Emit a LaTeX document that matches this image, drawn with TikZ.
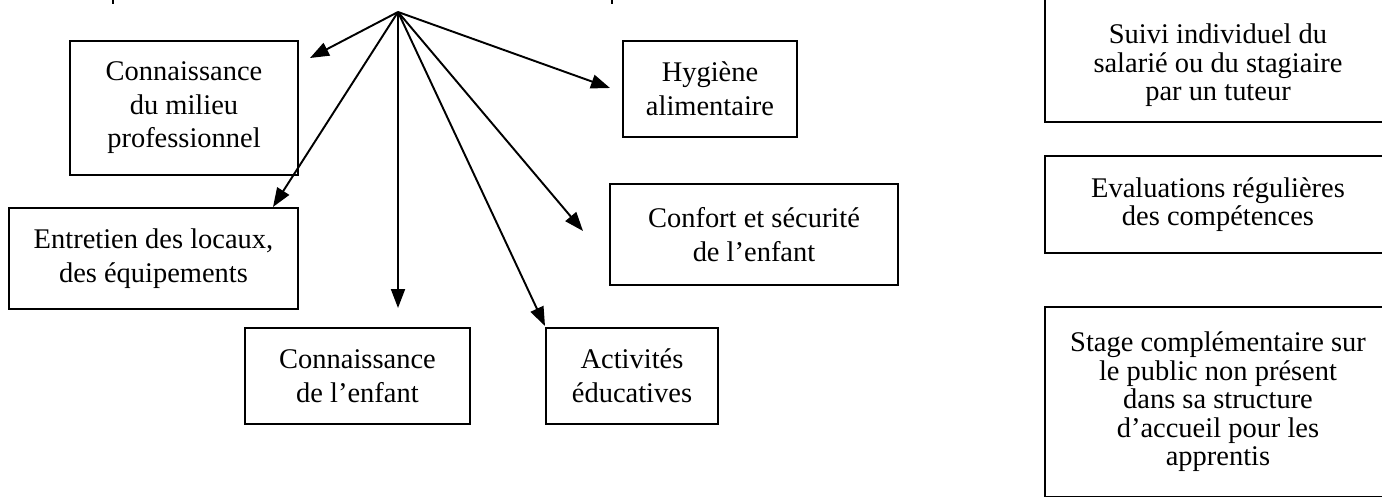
\documentclass[tikz,border=0pt]{standalone}
\usepackage{fontspec}
\setmainfont{Liberation Serif}
\usetikzlibrary{arrows.meta}
\tikzset{
  box/.style={draw, line width=1.3pt, align=center, inner sep=0pt,
              font=\fontsize{16.2}{19.1}\selectfont},
  sidebox/.style={box, minimum width=6.92cm, font=\fontsize{16.2}{16.2}\selectfont},
  branch/.style={line width=1.1pt, -{Triangle[length=0.38cm, width=0.28cm]}},
}

\begin{document}
\begin{tikzpicture}
            \useasboundingbox (0,0) rectangle (27.64,9.92);
            \clip (0,0) rectangle (27.64,9.92);
            % stubs of the frame above, cut by the page
            \draw[line width=1.1pt] ( 2.26, 9.92) -- ( 2.26, 9.84);
            \draw[line width=1.1pt] (12.24, 9.92) -- (12.24, 9.84);
            % left part
            \coordinate (hub) at (7.96, 9.68);
            \node[box, minimum width=4.56cm, minimum height=2.68cm] (milieu)    at ( 3.68, 7.76) {Connaissance\\du milieu\\professionnel};
            \node[box, minimum width=3.48cm, minimum height=1.92cm] (hygiene)   at (14.20, 8.14) {Hygiène\\alimentaire};
            \node[box, minimum width=5.78cm, minimum height=2.02cm] (entretien) at ( 3.07, 4.75) {Entretien des locaux,\\des équipements};
            \node[box, minimum width=5.76cm, minimum height=2.02cm] (confort)   at (15.08, 5.23) {Confort et sécurité\\de l’enfant};
            \node[box, minimum width=4.50cm, minimum height=1.92cm] (enfant)    at ( 7.15, 2.40) {Connaissance\\de l’enfant};
            \node[box, minimum width=3.44cm, minimum height=1.92cm] (activites) at (12.64, 2.40) {Activités\\éducatives};
            % arrow tips, short of the boxes
            \coordinate (t-milieu)    at ( 6.20, 8.76);
            \coordinate (t-hygiene)   at (12.20, 8.16);
            \coordinate (t-entretien) at ( 5.46, 5.78);
            \coordinate (t-confort)   at (11.66, 5.30);
            \coordinate (t-enfant)    at ( 7.96, 3.76);
            \coordinate (t-activites) at (10.90, 3.40);
            \draw[branch] (hub) -- (t-milieu);
            \draw[branch] (hub) -- (t-hygiene);
            \draw[branch] (hub) -- (t-entretien);
            \draw[branch] (hub) -- (t-confort);
            \draw[branch] (hub) -- (t-enfant);
            \draw[branch] (hub) -- (t-activites);
            % right column
            \node[sidebox, anchor=south, inner ysep=0.3cm] (suivi) at (24.36, 7.46) {\rule{0pt}{1.2cm}Suivi individuel du\\salarié ou du stagiaire\\par un tuteur};
            \node[sidebox, minimum height=1.94cm] (evals)  at (24.36, 5.83) {Evaluations régulières\\des compétences};
            \node[sidebox, minimum height=3.80cm] (stage)  at (24.36, 1.88) {Stage complémentaire sur\\le public non présent\\dans sa structure\\d’accueil pour les\\apprentis};
\end{tikzpicture}
\end{document}
